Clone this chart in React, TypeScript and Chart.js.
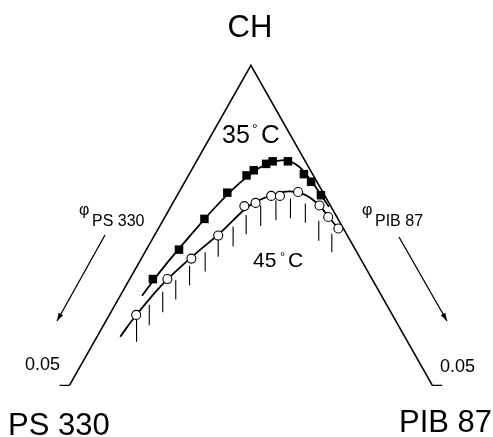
import React, { useEffect, useRef } from 'react';
import { Chart, registerables } from 'chart.js';

Chart.register(...registerables);

// ---- data (volume fractions, corner of the CH / PS 330 / PIB 87 ternary) ----
const VERTEX_LABELS = ['CH', 'PS 330', 'PIB 87'];
const CORNER_TICK = '0.05';
const CORNER = 0.05; // φ of the polymer at the base corners
const TEMPS = ['35', '45'];

// 35 °C cloud points (filled squares)
const ps35 = [0.0302, 0.0243, 0.0184, 0.0132, 0.0092, 0.0078, 0.0056, 0.0045, 0.0024, 0.0012, 0.0008, 0.0005];
const pib35 = [0.0032, 0.0045, 0.0056, 0.0067, 0.0080, 0.0086, 0.0098, 0.0105, 0.0126, 0.0158, 0.0174, 0.0198];

// 45 °C cloud points (open circles)
const ps45 = [0.0353, 0.0282, 0.0233, 0.0178, 0.0119, 0.0101, 0.0074, 0.0062, 0.0034, 0.0015, 0.0012, 0.0007];
const pib45 = [0.0037, 0.0052, 0.0069, 0.0088, 0.0101, 0.0114, 0.0130, 0.0142, 0.0164, 0.0204, 0.0225, 0.0248];

// drawn cloud-point curves
const curve35PS = [0.0330, 0.0281, 0.0214, 0.0159, 0.0106, 0.0064, 0.0028, 0.0013, 0.0007, 0.0005, 0.0003];
const curve35PIB = [0.0030, 0.0037, 0.0050, 0.0062, 0.0077, 0.0094, 0.0120, 0.0145, 0.0174, 0.0196, 0.0218];
const curve45PS = [0.0392, 0.0354, 0.0294, 0.0232, 0.0172, 0.0118, 0.0097, 0.0073, 0.0046, 0.0027, 0.0016, 0.0011, 0.0006];
const curve45PIB = [0.0032, 0.0037, 0.0049, 0.0068, 0.0089, 0.0105, 0.0115, 0.0130, 0.0151, 0.0175, 0.0201, 0.0228, 0.0254];

// hatching of the two-phase region: column (φPIB − φPS) and total polymer range
const hatchDiff = [-0.0315, -0.0280, -0.0243, -0.0207, -0.0169, -0.0126, -0.0090, -0.0049, -0.0013, 0.0027, 0.0069, 0.0109, 0.0150, 0.0187, 0.0223];
const hatchTop = [0.0391, 0.0374, 0.0354, 0.0336, 0.0313, 0.0292, 0.0272, 0.0252, 0.0234, 0.0219, 0.0211, 0.0208, 0.0216, 0.0243, 0.0263];
const hatchBottom = [0.0432, 0.0406, 0.0386, 0.0366, 0.0344, 0.0322, 0.0299, 0.0283, 0.0264, 0.0251, 0.0242, 0.0239, 0.0246, 0.0274, 0.0292];

// ---- view window / styling ----
const X_MIN = -0.06747;
const X_MAX = 0.06505;
const Y_MIN = -0.00927;
const Y_MAX = 0.05714;
const TICK_LEN = 0.0027;
const FONT = '"Liberation Sans", Arial, Helvetica, sans-serif';

const toXY = (ps: number, pib: number) => ({ x: pib - ps, y: ps + pib });

const labelsPlugin = {
  id: 'ternaryLabels',
  afterDraw(chart: any) {
    const ctx = chart.ctx as CanvasRenderingContext2D;
    ctx.save();
    ctx.fillStyle = '#000';
    ctx.strokeStyle = '#000';
    ctx.textBaseline = 'alphabetic';
    const t = (s: string, x: number, y: number, size: number, align: CanvasTextAlign = 'left') => {
      ctx.font = `${size}px ${FONT}`;
      ctx.textAlign = align;
      ctx.fillText(s, x, y);
    };
    t(VERTEX_LABELS[0], 250, 37, 31, 'center');
    t(VERTEX_LABELS[1], 8, 435, 31);
    t(VERTEX_LABELS[2], 399, 432, 31);
    t(CORNER_TICK, 25, 370, 18);
    t(CORNER_TICK, 440, 372, 18);

    t(TEMPS[0], 222, 143, 25);
    t('°', 252, 134, 14);
    t('C', 261, 143, 26);

    t(TEMPS[1], 253, 267, 21);
    t('°', 280, 261, 13);
    t('C', 288, 267, 21);

    t('φ', 79, 215, 16);
    t('PS 330', 92, 226, 16);
    t('φ', 362, 215, 16);
    t('PIB 87', 375, 226, 16);

    const arrow = (x1: number, y1: number, x2: number, y2: number) => {
      ctx.lineWidth = 1.3;
      ctx.beginPath();
      ctx.moveTo(x1, y1);
      ctx.lineTo(x2, y2);
      ctx.stroke();
      const a = Math.atan2(y2 - y1, x2 - x1);
      const L = 8, W = 2.6;
      ctx.beginPath();
      ctx.moveTo(x2, y2);
      ctx.lineTo(x2 - L * Math.cos(a) + W * Math.sin(a), y2 - L * Math.sin(a) - W * Math.cos(a));
      ctx.lineTo(x2 - L * Math.cos(a) - W * Math.sin(a), y2 - L * Math.sin(a) + W * Math.cos(a));
      ctx.closePath();
      ctx.fill();
    };
    arrow(105, 235, 57, 321);
    arrow(399, 237, 447, 321);
    ctx.restore();
  },
};

export default function App() {
  const ref = useRef<HTMLCanvasElement | null>(null);

  useEffect(() => {
    document.body.style.margin = '0';
    const canvas = ref.current;
    if (!canvas) return;

    const triangle = [toXY(CORNER, 0), toXY(0, 0), toXY(0, CORNER)];
    const left = toXY(CORNER, 0);
    const right = toXY(0, CORNER);
    const ticks = [
      { x: left.x - TICK_LEN, y: left.y },
      { x: left.x, y: left.y },
      { x: 0, y: null },
      { x: right.x, y: right.y },
      { x: right.x + TICK_LEN, y: right.y },
    ];
    const hatch: any[] = [];
    hatchDiff.forEach((d, i) => {
      hatch.push({ x: d, y: hatchTop[i] });
      hatch.push({ x: d, y: hatchBottom[i] });
      hatch.push({ x: d, y: null });
    });

    const line = (data: any[], width: number, tension = 0) => ({
      data,
      borderColor: '#000',
      borderWidth: width,
      pointRadius: 0,
      fill: false,
      tension,
      spanGaps: false,
      clip: false,
    });

    const chart = new Chart(canvas, {
      type: 'line',
      data: {
        datasets: [
          {
            data: ps35.map((p, i) => toXY(p, pib35[i])),
            showLine: false,
            pointStyle: 'rect',
            pointRadius: 6,
            backgroundColor: '#000',
            borderColor: '#000',
            borderWidth: 0,
            clip: false,
          },
          {
            data: ps45.map((p, i) => toXY(p, pib45[i])),
            showLine: false,
            pointStyle: 'circle',
            pointRadius: 4.5,
            backgroundColor: '#fff',
            borderColor: '#000',
            borderWidth: 1.1,
            clip: false,
          },
          line(curve35PS.map((p, i) => toXY(p, curve35PIB[i])), 1.8, 0.35),
          line(curve45PS.map((p, i) => toXY(p, curve45PIB[i])), 1.8, 0.35),
          line(hatch, 1.1),
          line(triangle, 1.6),
          line(ticks, 1.2),
        ] as any,
      },
      options: {
        animation: false,
        responsive: false,
        devicePixelRatio: 1,
        events: [],
        layout: { padding: 0 },
        plugins: { legend: { display: false }, tooltip: { enabled: false } },
        scales: {
          x: { type: 'linear', display: false, min: X_MIN, max: X_MAX },
          y: { type: 'linear', display: false, min: Y_MIN, max: Y_MAX, reverse: true },
        },
      } as any,
      plugins: [labelsPlugin],
    });
    return () => chart.destroy();
  }, []);

  return (
    <div style={{ width: 493, height: 437, background: '#fff' }}>
      <canvas ref={ref} width={493} height={437} style={{ display: 'block' }} />
    </div>
  );
}
